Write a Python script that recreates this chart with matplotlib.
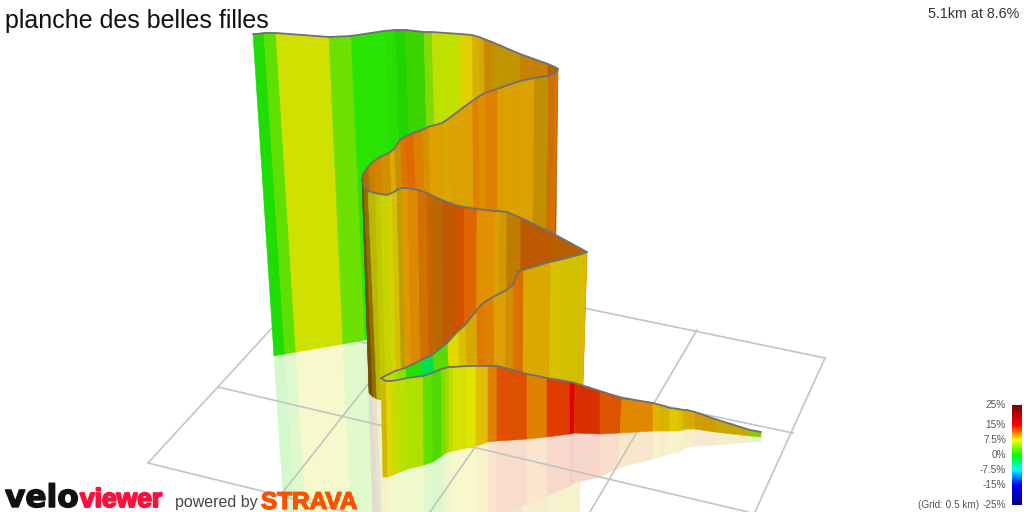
import numpy as np
import matplotlib
matplotlib.use('Agg')
import matplotlib.pyplot as plt
import matplotlib.patheffects as pe
from matplotlib.colors import LinearSegmentedColormap, to_rgb

plt.rcParams['font.family'] = ['Liberation Sans', 'DejaVu Sans']

title = 'planche des belles filles'
summary = '5.1km at 8.6%'
grid_note = '(Grid: 0.5 km) '

# the ribbon in pixels, one list per pass of the road
pass1_top_x = [253, 257, 264, 276, 329, 351, 384, 395, 406, 424, 432, 460, 472, 479, 484, 492, 520, 548, 555, 558]
pass1_top_y = [34, 34, 33, 33, 37, 36, 31, 30, 30, 32, 32, 34, 35, 37, 39, 42, 54, 64, 67, 69]
pass1_bot_x = [274, 278, 285, 296, 343, 365, 395, 405, 415, 432, 440, 465, 476, 482, 487, 495, 521, 547, 553, 555]
pass1_bot_y = [356, 355, 354, 352, 344, 340, 335, 333, 331, 329, 328, 322, 320, 318, 316, 314, 308, 302, 300, 300]
pass1_colors = ['#18e000', '#20dc00', '#60e000', '#d0e000', '#6ce000', '#28e400', '#28e000', '#20d400', '#3cd400',
                '#80dc00', '#c0e000', '#e0d000', '#d8b000', '#d4a800', '#c88800', '#c09400', '#c88000', '#b86000',
                '#a06000']

pass2_top_x = [558, 555, 548, 534, 520, 497, 485, 478, 472, 448, 442, 428, 422, 413, 405, 400, 394, 389, 380, 373, 368, 363, 362]
pass2_top_y = [69, 73, 76, 78, 81, 89, 93, 97, 101, 119, 123, 127, 130, 133, 137, 140, 149, 153, 157, 162, 167, 174, 180]
pass2_bot_x = [553, 551, 545, 532, 519, 497, 486, 480, 474, 452, 447, 434, 429, 421, 414, 409, 404, 399, 391, 385, 381, 376, 369]
pass2_bot_y = [300, 300, 302, 305, 308, 315, 320, 322, 325, 335, 340, 345, 347, 350, 355, 358, 360, 365, 370, 375, 380, 385, 390]
pass2_colors = ['#e07000', '#d07000', '#c09000', '#dca000', '#dca000', '#e08000', '#dc9000', '#e08000', '#dca000',
                '#d8a800', '#dca000', '#d89000', '#e08000', '#e06a00', '#e07000', '#c89000', '#e0a800', '#d09000',
                '#d88000', '#c88000', '#b07000', '#806000']

pass3_top_x = [362, 364, 368, 375, 380, 387, 392, 397, 401, 408, 418, 427, 433, 442, 455, 464, 477, 495, 500, 507, 521, 552, 587]
pass3_top_y = [180, 187, 191, 193, 194, 195, 193, 190, 188, 188, 190, 193, 196, 200, 205, 207, 209, 211, 211, 212, 218, 233, 252]
pass3_bot_x = [369, 373, 377, 381, 386, 392, 397, 402, 406, 412, 421, 429, 435, 443, 455, 464, 476, 494, 499, 506, 520, 550, 582]
pass3_bot_y = [393, 397, 399, 400, 400, 401, 401, 402, 402, 403, 403, 404, 404, 405, 405, 405, 406, 406, 406, 406, 408, 410, 414]
pass3_colors = ['#705000', '#907000', '#b8b800', '#c0c800', '#c8d400', '#d0d400', '#d8c000', '#b8a000', '#e09800',
                '#dc8800', '#d07000', '#c86400', '#b86800', '#c05800', '#d45000', '#e06400', '#e09000', '#d8a000',
                '#d09800', '#c07c00', '#bc5800', '#b86000']

pass4_top_x = [587, 582, 563, 550, 523, 518, 513, 505, 493, 483, 476, 465, 458, 447, 432, 421, 405, 395, 381]
pass4_top_y = [252, 254, 259, 262, 270, 272, 285, 291, 297, 303, 311, 325, 331, 343, 355, 360, 368, 371, 378]
pass4_bot_x = [582, 578, 560, 548, 522, 517, 513, 505, 494, 485, 478, 468, 461, 451, 437, 426, 411, 402, 388]
pass4_bot_y = [414, 414, 415, 415, 416, 416, 417, 417, 418, 418, 418, 419, 419, 419, 420, 420, 420, 420, 420]
pass4_colors = ['#e0b800', '#d0c000', '#d8c000', '#dca800', '#d87000', '#e07000', '#d09000', '#dca000', '#e08000',
                '#e07800', '#d8a800', '#dcc000', '#e0d800', '#58dc00', '#00e050', '#28e000', '#90e000', '#c0d800']

pass5_top_x = [381, 386, 391, 398, 407, 423, 432, 441, 445, 449, 453, 467, 476, 488, 497, 513, 527, 547, 570, 575,
               600, 622, 653, 660, 664, 670, 678, 683, 687, 695, 715, 750, 761]
pass5_top_y = [378, 381, 381, 380, 378, 376, 373, 369, 368, 367, 367, 366, 366, 366, 366, 370, 374, 378, 382, 383,
               391, 398, 403, 405, 406, 408, 409, 410, 410, 412, 419, 430, 432]
pass5_bot_x = [383, 388, 393, 400, 408, 424, 433, 442, 446, 449, 453, 467, 476, 488, 497, 513, 527, 547, 570, 574,
               600, 620, 653, 660, 664, 670, 678, 683, 686, 695, 715, 750, 761]
pass5_bot_y = [477, 477, 475, 472, 469, 465, 462, 456, 453, 452, 451, 448, 446, 442, 441, 440, 439, 437, 434, 433,
               434, 433, 431, 431, 431, 431, 431, 430, 429, 429, 432, 436, 437]
pass5_colors = ['#d0b800', '#e0d800', '#c8dc00', '#b8e000', '#b0e000', '#60e000', '#50d800', '#80dc00', '#a0d800',
                '#c0dc00', '#d8e000', '#e0e400', '#e0c000', '#e08000', '#e05000', '#dc5000', '#e08000', '#e03c00',
                '#e00000', '#d83000', '#dc5400', '#e08800', '#e0b400', '#d8b000', '#dcb400', '#e0c800', '#dcc000',
                '#d4b000', '#dca800', '#cc9c00', '#c8a800', '#88cc00']

passes = [
    (pass1_top_x, pass1_top_y, pass1_bot_x, pass1_bot_y, pass1_colors),
    (pass2_top_x, pass2_top_y, pass2_bot_x, pass2_bot_y, pass2_colors),
    (pass3_top_x, pass3_top_y, pass3_bot_x, pass3_bot_y, pass3_colors),
    (pass4_top_x, pass4_top_y, pass4_bot_x, pass4_bot_y, pass4_colors),
    (pass5_top_x, pass5_top_y, pass5_bot_x, pass5_bot_y, pass5_colors),
]

grid_x = [(148, 272), (283, 450), (430, 555), (590, 697), (755, 825),
          (148, 347), (218, 748), (275, 793), (400, 825)]
grid_y = [(463, 328), (492, 280), (512, 332), (512, 330), (512, 358),
          (463, 512), (387, 512), (324, 433), (270, 358)]

scale_grades = [-25, -15, -7.5, 0, 7.5, 15, 25]
scale_colors = ['#00007f', '#0000ff', '#00ffff', '#00ff00', '#ffff00', '#ff0000', '#7f0000']
scale_labels = ['-25%', '-15%', '-7.5%', '0%', '7.5%', '15%', '25%']


def grade_to_y(g):
    return 455 - 2 * np.asarray(g, dtype=float)


def pale(c):
    return tuple(1 - 0.2 * (1 - v) for v in to_rgb(c))


def draw_reflection(ax, top_x, top_y, bot_x, bot_y, colors):
    # ground mirror, the wall flipped about its own base
    tx, ty, bx, by = map(np.asarray, (top_x, top_y, bot_x, bot_y))
    rx, ry = 2 * bx - tx, 2 * by - ty
    for i, c in enumerate(colors):
        ax.fill([bx[i], bx[i + 1], rx[i + 1], rx[i]], [by[i], by[i + 1], ry[i + 1], ry[i]],
                facecolor=pale(c), edgecolor=pale(c), lw=0.4, zorder=1)


def draw_wall(ax, top_x, top_y, bot_x, bot_y, colors, z):
    for i, c in enumerate(colors):
        ax.fill([top_x[i], top_x[i + 1], bot_x[i + 1], bot_x[i]],
                [top_y[i], top_y[i + 1], bot_y[i + 1], bot_y[i]],
                facecolor=c, edgecolor=c, lw=0.4, zorder=z)
    ax.plot(top_x, top_y, color='#707070', lw=1.3, zorder=z + 0.5, solid_capstyle='round')


fig = plt.figure(figsize=(10.24, 5.12), dpi=100)
ax = fig.add_axes([0, 0, 1, 1])

for xs, ys in zip(grid_x, grid_y):
    ax.plot(xs, ys, color='#c4c4c4', lw=1.2, zorder=2)

for i, p in enumerate(passes):
    draw_reflection(ax, *p)
    draw_wall(ax, *p, z=3 + i)

cmap = LinearSegmentedColormap.from_list(
    'grade', [((g + 25) / 50, c) for g, c in zip(scale_grades, scale_colors)])
ramp = np.linspace(25, -25, 200).reshape(-1, 1)
ax.imshow(ramp, cmap=cmap, vmin=-25, vmax=25, aspect='auto', zorder=9,
          extent=(1012, 1022, grade_to_y(-25), grade_to_y(25)))

for g, lab in zip(scale_grades, scale_labels):
    ax.text(1006, grade_to_y(g), lab, ha='right', va='center', fontsize=7.2, color='#555555', zorder=10)
ax.text(1006 - 27, grade_to_y(-25), grid_note.strip(), ha='right', va='center', fontsize=7.2,
        color='#555555', zorder=10)

ax.text(5, 28, title, fontsize=18, color='#111111', ha='left', va='baseline', zorder=10)
ax.text(1019, 18, summary, fontsize=10.3, color='#333333', ha='right', va='baseline', zorder=10)

ax.text(5, 507, 'velo', family='DejaVu Sans', fontweight='bold', fontsize=22.5, color='#111111', zorder=10,
        path_effects=[pe.withStroke(linewidth=1.0, foreground='#111111')])
ax.text(80, 507, 'viewer', fontweight='bold', fontsize=19, color='#fc0f3c', zorder=10,
        path_effects=[pe.withStroke(linewidth=1.4, foreground='#fc0f3c')])
ax.text(175, 507, 'powered by', fontsize=11.5, color='#444444', zorder=10)
ax.text(261, 509, 'STRAVA', fontweight='bold', fontsize=17.5, color='#fc5200', zorder=10,
        path_effects=[pe.withStroke(linewidth=1.0, foreground='#fc5200')])

ax.set_xlim(0, 1024)
ax.set_ylim(512, 0)
ax.axis('off')
fig.savefig('out.png', dpi=100)
